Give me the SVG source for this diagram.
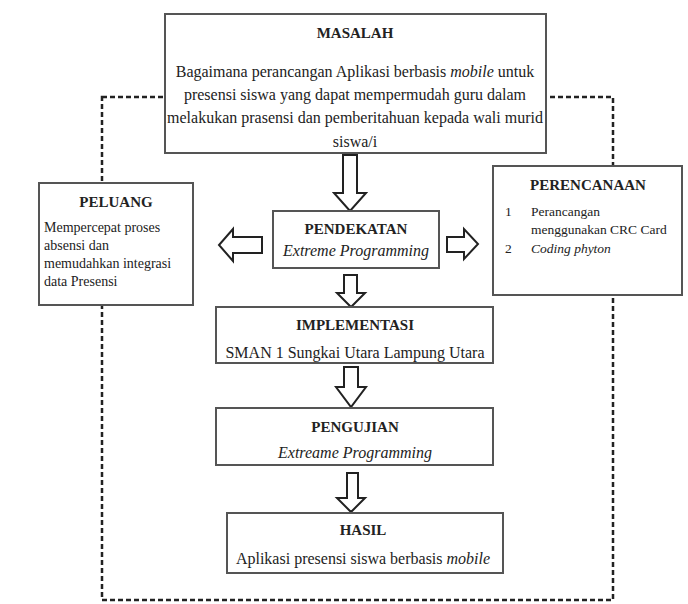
<svg xmlns="http://www.w3.org/2000/svg" width="688" height="604" viewBox="0 0 688 604">
<defs>
<style>
.box{fill:#fff;stroke:#555;stroke-width:2}
.arr{fill:#fff;stroke:#222;stroke-width:2;stroke-linejoin:miter}
.dash{fill:none;stroke:#222;stroke-width:2.5;stroke-dasharray:5 3}
text{font-family:"Liberation Serif","Times New Roman",serif;fill:#222}
.t{font-weight:bold;font-size:15px;text-anchor:middle}
.b{font-size:16px;text-anchor:middle}
.s{font-size:14px}
.r{font-size:13.5px}
.i{font-style:italic}
</style>
</defs>
<rect width="688" height="604" fill="#fff"/>
<g id="connectors">
<rect class="dash" x="102" y="97" width="511" height="503"/>
<polygon class="arr" points="343,155 357,155 357,193 366,193 350,211 334,193 343,193"/>
<polygon class="arr" points="262,237 233,237 233,229 219,245 233,261 233,253 262,253"/>
<polygon class="arr" points="447,237 464,237 464,229 478,244 464,259 464,252 447,252"/>
<polygon class="arr" points="344,275 357,275 357,293 365,293 351,307 337,293 344,293"/>
<polygon class="arr" points="344,367 358,367 358,387 366,387 351,407 336,387 344,387"/>
<polygon class="arr" points="347,473 358,473 358,498 365,498 351,512 337,498 347,498"/>
</g>
<g id="masalah">
<rect class="box" x="165" y="14" width="381" height="139"/>
<text class="t" x="355" y="38">MASALAH</text>
<text class="b" x="355" y="77">Bagaimana perancangan Aplikasi berbasis <tspan class="i">mobile</tspan> untuk</text>
<text class="b" x="355" y="100">presensi siswa yang dapat mempermudah guru dalam</text>
<text class="b" x="355" y="123">melakukan prasensi dan pemberitahuan kepada wali murid</text>
<text class="b" x="355" y="147">siswa/i</text>
</g>
<g id="peluang">
<rect class="box" x="39" y="183" width="154" height="122"/>
<text class="t" x="116" y="207">PELUANG</text>
<text class="s" x="44" y="232">Mempercepat proses</text>
<text class="s" x="44" y="250">absensi dan</text>
<text class="s" x="44" y="268">memudahkan integrasi</text>
<text class="s" x="44" y="286">data Presensi</text>
</g>
<g id="perencanaan">
<rect class="box" x="493" y="166" width="189" height="129"/>
<text class="t" x="588" y="190">PERENCANAAN</text>
<text class="r" x="505" y="216">1</text>
<text class="r" x="531" y="216">Perancangan</text>
<text class="r" x="531" y="234">menggunakan CRC Card</text>
<text class="r" x="505" y="253">2</text>
<text class="r i" x="531" y="253">Coding phyton</text>
</g>
<g id="pendekatan">
<rect class="box" x="273" y="211" width="166" height="57"/>
<text class="t" x="356" y="234">PENDEKATAN</text>
<text class="b i" x="356" y="256">Extreme Programming</text>
</g>
<g id="implementasi">
<rect class="box" x="216" y="307" width="277" height="56"/>
<text class="t" x="355" y="330">IMPLEMENTASI</text>
<text class="b" x="355" y="358">SMAN 1 Sungkai Utara Lampung Utara</text>
</g>
<g id="pengujian">
<rect class="box" x="216" y="408" width="277" height="57"/>
<text class="t" x="355" y="432">PENGUJIAN</text>
<text class="b i" x="355" y="458">Extreame Programming</text>
</g>
<g id="hasil">
<rect class="box" x="227" y="513" width="276" height="60"/>
<text class="t" x="363" y="535">HASIL</text>
<text class="b" x="363" y="564">Aplikasi presensi siswa berbasis <tspan class="i">mobile</tspan></text>
</g>
</svg>
